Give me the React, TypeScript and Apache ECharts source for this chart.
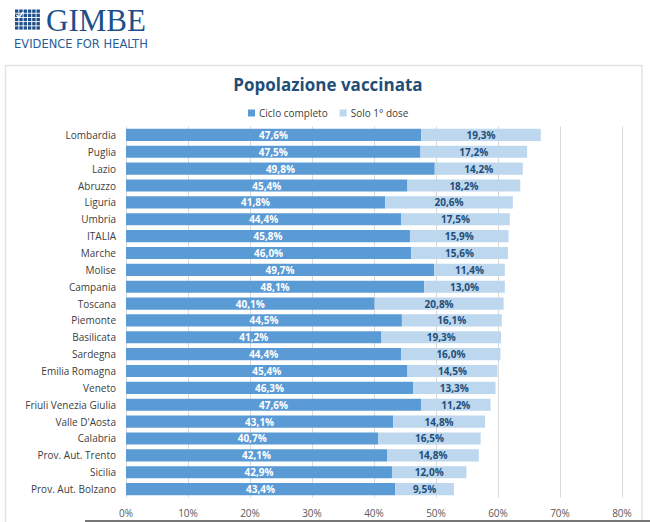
import { useEffect, useRef } from 'react';
import * as echarts from 'echarts';

const regions = [
  'Lombardia', 'Puglia', 'Lazio', 'Abruzzo', 'Liguria', 'Umbria', 'ITALIA', 'Marche',
  'Molise', 'Campania', 'Toscana', 'Piemonte', 'Basilicata', 'Sardegna', 'Emilia Romagna',
  'Veneto', 'Friuli Venezia Giulia', "Valle D'Aosta", 'Calabria', 'Prov. Aut. Trento',
  'Sicilia', 'Prov. Aut. Bolzano',
];
const cicloCompleto = [
  47.6, 47.5, 49.8, 45.4, 41.8, 44.4, 45.8, 46.0, 49.7, 48.1, 40.1, 44.5, 41.2, 44.4, 45.4,
  46.3, 47.6, 43.1, 40.7, 42.1, 42.9, 43.4,
];
const soloPrimaDose = [
  19.3, 17.2, 14.2, 18.2, 20.6, 17.5, 15.9, 15.6, 11.4, 13.0, 20.8, 16.1, 19.3, 16.0, 14.5,
  13.3, 11.2, 14.8, 16.5, 14.8, 12.0, 9.5,
];
const xTicks = { min: 0, max: 80, interval: 10 };

const FONT = '"Open Sans", "Noto Sans", sans-serif';
const BLUE = '#1d4f8c';

const pct = (v: number) => v.toFixed(1).replace('.', ',') + '%';

// logo icon: small square grid
const logoCells: any[] = [];
for (let r = 0; r < 5; r++) {
  for (let c = 0; c < 6; c++) {
    logoCells.push({
      type: 'rect',
      shape: { x: 15 + c * 4.3, y: 9.5 + r * 4.2, width: 3.4, height: 3.3 },
      style: { fill: BLUE },
    });
  }
}

export default function App() {
  const chartRef = useRef<HTMLDivElement>(null);

  useEffect(() => {
    if (!chartRef.current) return;
    const chart = echarts.init(chartRef.current, null, { renderer: 'svg' });

    const option: echarts.EChartsOption = {
      animation: false,
      backgroundColor: '#ffffff',
      title: {
        text: 'Popolazione vaccinata',
        left: 323,
        top: 71,
        textAlign: 'center',
        textStyle: { color: '#1f4e79', fontSize: 17, fontWeight: 'bold', fontFamily: FONT },
      },
      legend: {
        data: ['Ciclo completo', 'Solo 1° dose'],
        left: 243,
        top: 103,
        itemWidth: 7,
        itemHeight: 7,
        itemGap: 12,
        icon: 'rect',
        textStyle: { color: '#404040', fontSize: 10, fontFamily: FONT, padding: [0, 0, 0, -1] },
      },
      grid: { left: 126, right: 28, top: 126.5, bottom: 24.5, containLabel: false },
      xAxis: {
        type: 'value',
        min: xTicks.min,
        max: xTicks.max,
        interval: xTicks.interval,
        axisLine: { show: false },
        axisTick: { show: false },
        axisLabel: {
          formatter: '{value}%',
          color: '#595959',
          fontSize: 10,
          fontFamily: FONT,
          margin: 10,
        },
        splitLine: { lineStyle: { color: '#d9d9d9', width: 1 } },
      },
      yAxis: {
        type: 'category',
        data: regions,
        inverse: true,
        axisLine: { show: false },
        axisTick: { show: false },
        axisLabel: { color: '#404040', fontSize: 10, fontFamily: FONT, margin: 10 },
      },
      series: [
        {
          name: 'Ciclo completo',
          type: 'bar',
          stack: 'tot',
          data: cicloCompleto,
          barWidth: '72%',
          itemStyle: { color: '#5b9bd5' },
          label: {
            show: true,
            position: 'inside',
            color: '#ffffff',
            fontSize: 10,
            fontWeight: 'bold',
            fontFamily: FONT,
            formatter: (p: any) => pct(p.value),
          },
        },
        {
          name: 'Solo 1° dose',
          type: 'bar',
          stack: 'tot',
          data: soloPrimaDose,
          itemStyle: { color: '#bdd7ee' },
          label: {
            show: true,
            position: 'inside',
            color: '#1f4e79',
            fontSize: 10,
            fontWeight: 'bold',
            fontFamily: FONT,
            formatter: (p: any) => pct(p.value),
          },
        },
      ],
      graphic: [
        ...logoCells,
        {
          type: 'polyline',
          shape: { points: [[16.5, 15], [19, 17.5], [23, 12]] },
          style: { stroke: '#ffffff', lineWidth: 1.3, fill: 'none' },
        },
        {
          type: 'text',
          x: 46,
          y: 5,
          style: {
            text: 'GIMBE',
            fill: BLUE,
            fontSize: 31,
            lineHeight: 31,
            fontFamily: '"Liberation Serif", serif',
          },
        },
        {
          type: 'text',
          x: 14,
          y: 38,
          style: {
            text: 'EVIDENCE FOR HEALTH',
            fill: '#2a5d9a',
            fontSize: 11.5,
            lineHeight: 11,
            fontFamily: '"DejaVu Sans", sans-serif',
          },
        },
        {
          type: 'line',
          shape: { x1: 5, y1: 65.5, x2: 642, y2: 65.5 },
          style: { stroke: '#e3e3e3', lineWidth: 1.5 },
        },
        {
          type: 'line',
          shape: { x1: 5.5, y1: 65, x2: 5.5, y2: 522 },
          style: { stroke: '#e3e3e3', lineWidth: 1.5 },
        },
        {
          type: 'line',
          shape: { x1: 642, y1: 65, x2: 642, y2: 522 },
          style: { stroke: '#e3e3e3', lineWidth: 1.5 },
        },
        {
          type: 'line',
          shape: { x1: 85, y1: 521, x2: 650, y2: 521 },
          style: { stroke: '#777777', lineWidth: 2 },
        },
      ],
    };

    chart.setOption(option);
    return () => chart.dispose();
  }, []);

  return (
    <div
      ref={chartRef}
      style={{ position: 'absolute', left: 0, top: 0, width: 650, height: 522 }}
    />
  );
}
